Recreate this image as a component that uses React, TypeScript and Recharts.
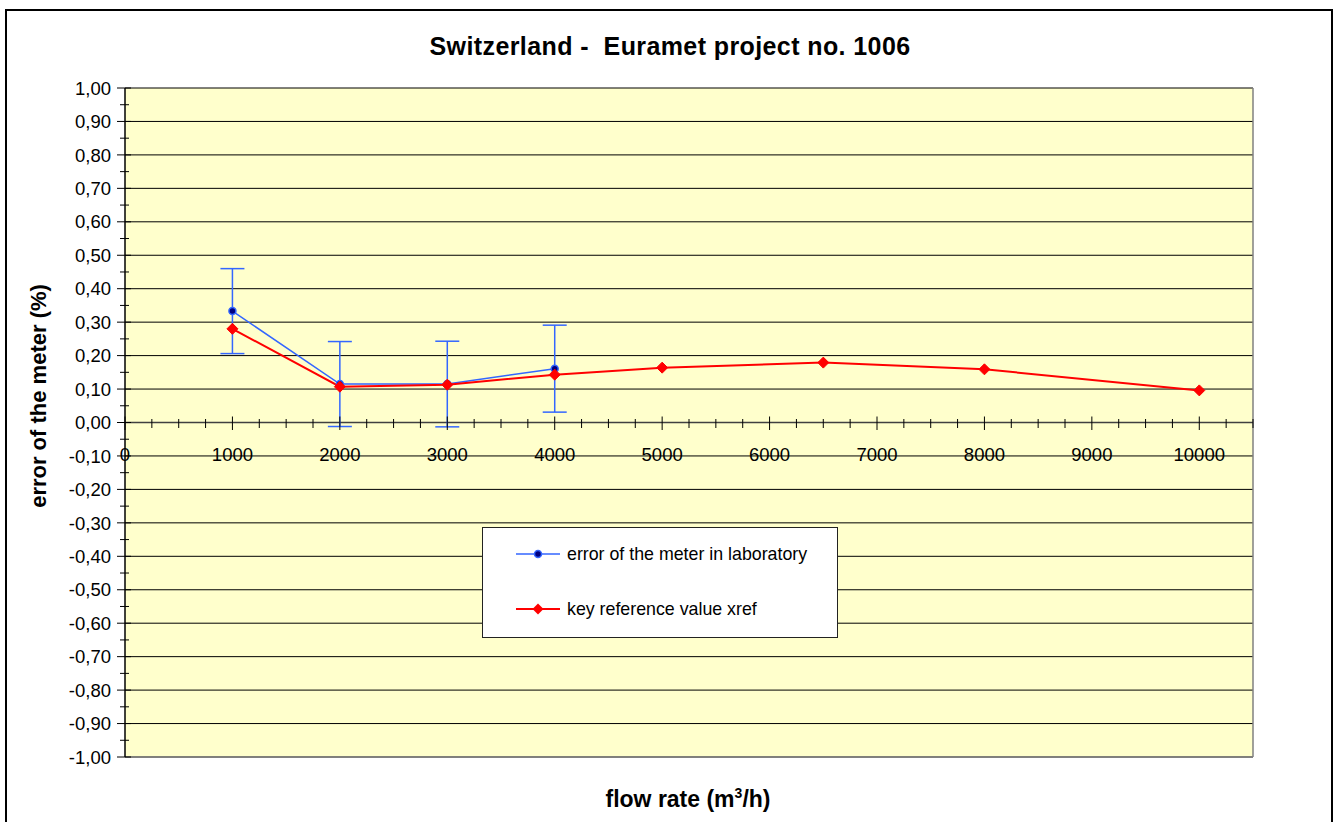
import React from 'react';
import {
  LineChart,
  Line,
  XAxis,
  YAxis,
  CartesianGrid,
  ReferenceLine,
  ReferenceDot,
  ErrorBar,
  Legend,
} from 'recharts';

// ---- data ----
const flowRates = [1000, 2000, 3000, 4000, 5000, 6500, 8000, 10000];
const labFlowRates = [1000, 2000, 3000, 4000];
const labError = [0.333, 0.115, 0.115, 0.161];
const labUncertainty = [0.127, 0.127, 0.128, 0.13];
const xrefValues = [0.28, 0.107, 0.113, 0.143, 0.164, 0.179, 0.159, 0.096];

const yMajorTicks = [
  -1, -0.9, -0.8, -0.7, -0.6, -0.5, -0.4, -0.3, -0.2, -0.1, 0, 0.1, 0.2, 0.3, 0.4, 0.5, 0.6, 0.7, 0.8, 0.9, 1,
];
const xMajorTicks = [0, 1000, 2000, 3000, 4000, 5000, 6000, 7000, 8000, 9000, 10000];
const xMax = 10500;
const xMinorStep = 250;

const seriesNames = ['error of the meter in laboratory', 'key reference value xref'];
const chartTitle = 'Switzerland -  Euramet project no. 1006';
const yTitle = 'error of the meter (%)';
const xTitleMain = 'flow rate (m';
const xTitleSup = '3';
const xTitleEnd = '/h)';

// ---- derived tables ----
const data = flowRates.map((x, i) => {
  const li = labFlowRates.indexOf(x);
  return {
    x,
    xref: xrefValues[i],
    lab: li >= 0 ? labError[li] : null,
    labErr: li >= 0 ? labUncertainty[li] : null,
  };
});

const yAllTicks: number[] = [];
yMajorTicks.forEach((t, i) => {
  yAllTicks.push(t);
  if (i < yMajorTicks.length - 1) yAllTicks.push(Math.round(((t + yMajorTicks[i + 1]) / 2) * 100) / 100);
});

const xAllTicks: number[] = [];
for (let t = 0; t <= xMax; t += xMinorStep) xAllTicks.push(t);

const FONT = '"Liberation Sans", Arial, sans-serif';
const BLUE = '#3366FF';
const NAVY = '#000080';
const RED = '#FF0000';

const fmtY = (v: number) => (Math.abs(v) < 1e-9 ? '0,00' : v.toFixed(2).replace('.', ','));

const YTick = (props: any) => {
  const { x, y, payload } = props;
  const v = payload.value as number;
  const major = Math.abs(Math.round(v * 20)) % 2 === 0;
  return (
    <g>
      <line x1={major ? x - 8 : x - 5} x2={major ? x + 6 : x + 4} y1={y} y2={y} stroke="#000" strokeWidth={1} />
      {major && (
        <text x={x - 14} y={y} dy="0.36em" textAnchor="end" fontSize={18.5} fontFamily={FONT} fill="#000">
          {fmtY(v)}
        </text>
      )}
    </g>
  );
};

const makeXTick = (value: number) => (p: any) => {
  const { cx, cy } = p;
  const major = value % 1000 === 0;
  return (
    <g>
      <line
        x1={cx}
        x2={cx}
        y1={cy - (major ? 6 : 3.5)}
        y2={cy + (major ? 7.5 : 5.5)}
        stroke="#000"
        strokeWidth={1}
      />
      {major && (
        <text x={cx} y={cy + 38} textAnchor="middle" fontSize={18.5} fontFamily={FONT} fill="#000">
          {value}
        </text>
      )}
    </g>
  );
};

const Diamond = (props: any) => {
  const { cx, cy } = props;
  if (cx == null || cy == null) return <g />;
  const s = 5.5;
  return (
    <polygon
      points={`${cx},${cy - s} ${cx + s},${cy} ${cx},${cy + s} ${cx - s},${cy}`}
      fill={RED}
      stroke={RED}
      strokeWidth={1}
    />
  );
};

const renderLegend = () => (
  <div
    style={{
      position: 'relative',
      boxSizing: 'border-box',
      width: 356,
      height: 111,
      background: '#fff',
      border: '1.5px solid #222',
      fontFamily: FONT,
      fontSize: 17.8,
      color: '#000',
    }}
  >
    {seriesNames.map((name, i) => (
      <div
        key={name}
        style={{
          position: 'absolute',
          left: 33,
          top: (i === 0 ? 26 : 81) - 10,
          height: 20,
          display: 'flex',
          alignItems: 'center',
          whiteSpace: 'nowrap',
        }}
      >
        <svg width={44} height={20} style={{ display: 'block' }}>
          <line x1={0} x2={44} y1={10} y2={10} stroke={i === 0 ? BLUE : RED} strokeWidth={i === 0 ? 1.5 : 2} />
          {i === 0 ? (
            <circle cx={22} cy={10} r={3.5} fill={NAVY} stroke={BLUE} strokeWidth={1.5} />
          ) : (
            <polygon points="22,4.5 27.5,10 22,15.5 16.5,10" fill={RED} />
          )}
        </svg>
        <span style={{ marginLeft: 7, lineHeight: '20px' }}>{name}</span>
      </div>
    ))}
  </div>
);

export default function App() {
  return (
    <div
      style={{
        position: 'absolute',
        left: 0,
        top: 0,
        width: 1337,
        height: 822,
        overflow: 'hidden',
        background: '#fff',
      }}
    >
      <div
        style={{
          position: 'absolute',
          left: 5,
          top: 9,
          width: 1328,
          height: 840,
          border: '2px solid #000',
          boxSizing: 'border-box',
        }}
      />
      <div style={{ position: 'absolute', left: 0, top: 0 }}>
        <LineChart width={1337} height={822} data={data} margin={{ top: 88, right: 84, bottom: 65, left: 0 }}>
          <CartesianGrid
            fill="#FFFFCC"
            fillOpacity={1}
            vertical={false}
            horizontal={true}
            horizontalValues={yMajorTicks}
            stroke="#000"
            strokeWidth={1}
          />
          <XAxis type="number" dataKey="x" domain={[0, xMax]} ticks={xMajorTicks} hide />
          <YAxis
            type="number"
            domain={[-1, 1]}
            ticks={yAllTicks}
            interval={0}
            width={125}
            tickSize={0}
            tickMargin={0}
            tickLine={false}
            axisLine={{ stroke: '#000', strokeWidth: 1.5 }}
            tick={<YTick />}
          />
          <ReferenceLine x={xMax} stroke="#808080" strokeWidth={1.5} ifOverflow="visible" />
          <ReferenceLine y={-1} stroke="#808080" strokeWidth={1.5} ifOverflow="visible" />
          <ReferenceLine y={0} stroke="#404040" strokeWidth={1.5} ifOverflow="visible" />
          {xAllTicks.map((t) => (
            <ReferenceDot key={t} x={t} y={0} r={1} ifOverflow="visible" shape={makeXTick(t)} />
          ))}
          <Line
            name={seriesNames[0]}
            dataKey="lab"
            stroke={BLUE}
            strokeWidth={1.5}
            isAnimationActive={false}
            dot={{ r: 3.5, fill: NAVY, stroke: BLUE, strokeWidth: 1.5 }}
            activeDot={false}
          >
            <ErrorBar dataKey="labErr" width={12} stroke={BLUE} strokeWidth={1.5} direction="y" />
          </Line>
          <Line
            name={seriesNames[1]}
            dataKey="xref"
            stroke={RED}
            strokeWidth={2}
            isAnimationActive={false}
            dot={<Diamond />}
            activeDot={false}
          />
          <Legend
            layout="vertical"
            align="center"
            verticalAlign="middle"
            wrapperStyle={{ left: 482, top: 527, width: 356, height: 111 }}
            content={renderLegend}
          />
        </LineChart>
      </div>
      <svg
        width={1337}
        height={822}
        style={{ position: 'absolute', left: 0, top: 0, pointerEvents: 'none' }}
      >
        <text
          x={670}
          y={55}
          textAnchor="middle"
          fontFamily={FONT}
          fontWeight="bold"
          fontSize={25}
          letterSpacing={0.4}
          style={{ whiteSpace: 'pre' }}
          fill="#000"
        >
          {chartTitle}
        </text>
        <text
          transform="translate(46,396) rotate(-90)"
          textAnchor="middle"
          fontFamily={FONT}
          fontWeight="bold"
          fontSize={22}
          fill="#000"
        >
          {yTitle}
        </text>
        <text x={688} y={807} textAnchor="middle" fontFamily={FONT} fontWeight="bold" fontSize={23} fill="#000">
          {xTitleMain}
          <tspan dy={-9} fontSize={14}>
            {xTitleSup}
          </tspan>
          <tspan dy={9}>{xTitleEnd}</tspan>
        </text>
      </svg>
    </div>
  );
}
